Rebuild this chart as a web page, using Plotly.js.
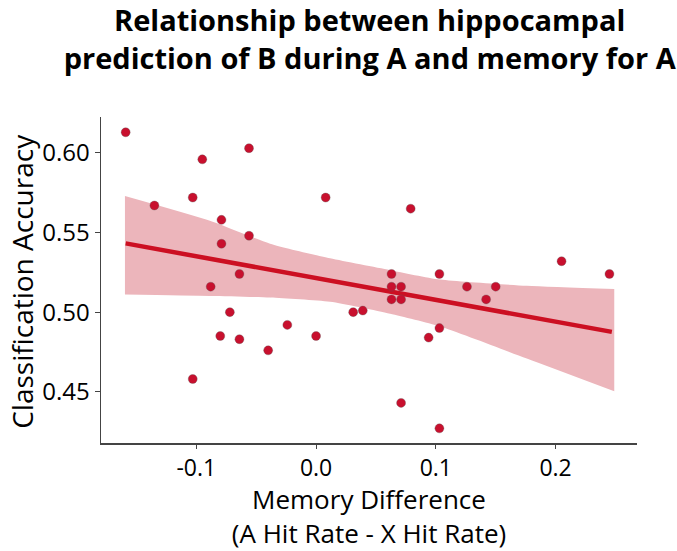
<!DOCTYPE html>
<html>
<head>
<meta charset="utf-8">
<script src="https://cdn.plot.ly/plotly-3.0.1.min.js"></script>
<style>
  html, body { margin: 0; padding: 0; background: #fff; }
  #chart { width: 677px; height: 551px; }
</style>
</head>
<body>
<div id="chart"></div>
<script>
// scatter points: memory difference vs classification accuracy
const memDiff = [
  -0.159, -0.056, -0.095, -0.103, 0.008, -0.135, -0.079, -0.056, -0.079, -0.064, -0.088,
  0.079, 0.063, 0.103, 0.063, 0.071, 0.126, 0.150, 0.063, 0.071, 0.142, 0.205, 0.245,
  -0.072, 0.031, 0.039, -0.080, -0.064, -0.024, 0.000, -0.040, -0.103,
  0.103, 0.094, 0.071, 0.103
];
const classAcc = [
  0.613, 0.603, 0.596, 0.572, 0.572, 0.567, 0.558, 0.548, 0.543, 0.524, 0.516,
  0.565, 0.524, 0.524, 0.516, 0.516, 0.516, 0.516, 0.508, 0.508, 0.508, 0.532, 0.524,
  0.500, 0.500, 0.501, 0.485, 0.483, 0.492, 0.485, 0.476, 0.458,
  0.490, 0.484, 0.443, 0.427
];

// regression line end points
const fitX = [-0.159, 0.247];
const fitY = [0.5432, 0.4876];

// confidence band
const bandX     = [-0.1596, -0.0886, -0.0384, 0.0117, 0.0618, 0.1036, 0.176, 0.249];
const bandUpper = [0.5730, 0.5574, 0.5430, 0.5338, 0.5264, 0.5205, 0.5166, 0.5145];
const bandLower = [0.5111, 0.5102, 0.5092, 0.5065, 0.4990, 0.4910, 0.4709, 0.4503];

const xTicks = [-0.1, 0.0, 0.1, 0.2];
const xTickText = ["-0.1", "0.0", "0.1", "0.2"];
const yTicks = [0.45, 0.50, 0.55, 0.60];
const yTickText = ["0.45", "0.50", "0.55", "0.60"];

const FONT = "Open Sans, Lato, sans-serif";

const traces = [
  // lower edge of band (invisible)
  {
    x: bandX,
    y: bandLower,
    mode: "lines",
    line: { width: 0, color: "rgba(0,0,0,0)", shape: "spline", smoothing: 0.6 },
    hoverinfo: "skip",
    showlegend: false
  },
  // upper edge, filled down to lower
  {
    x: bandX,
    y: bandUpper,
    mode: "lines",
    fill: "tonexty",
    fillcolor: "#ecb5bb",
    line: { width: 0, color: "rgba(0,0,0,0)", shape: "spline", smoothing: 0.6 },
    hoverinfo: "skip",
    showlegend: false
  },
  {
    x: fitX,
    y: fitY,
    mode: "lines",
    line: { color: "#cc0f22", width: 4.5 },
    showlegend: false
  },
  {
    x: memDiff,
    y: classAcc,
    mode: "markers",
    marker: {
      color: "#c8102e",
      size: 9,
      line: { color: "rgba(90,90,90,0.55)", width: 0.6 }
    },
    showlegend: false
  }
];

const layout = {
  width: 677,
  height: 551,
  paper_bgcolor: "#fff",
  plot_bgcolor: "#fff",
  margin: { l: 101, r: 40, t: 117, b: 108 },
  font: { family: FONT, color: "#000" },
  title: {
    text: "<b>Relationship between hippocampal<br>prediction of B during A and memory for A</b>",
    font: { family: FONT, size: 29, color: "#000" },
    x: 0.546,
    xanchor: "center",
    yref: "container",
    y: 0.944,
    yanchor: "top"
  },
  xaxis: {
    range: [-0.1796, 0.268],
    tickvals: xTicks,
    ticktext: xTickText,
    ticks: "outside",
    ticklen: 4,
    tickcolor: "#444",
    tickfont: { size: 23 },
    showline: true,
    linecolor: "#444",
    linewidth: 1.5,
    showgrid: false,
    zeroline: false,
    title: {
      text: "Memory Difference<br>(A Hit Rate - X Hit Rate)",
      font: { size: 26 },
      standoff: 9
    }
  },
  yaxis: {
    range: [0.4178, 0.6226],
    tickvals: yTicks,
    ticktext: yTickText,
    ticks: "outside",
    ticklen: 5,
    tickcolor: "#444",
    tickfont: { size: 24 },
    showline: true,
    linecolor: "#444",
    linewidth: 1.5,
    showgrid: false,
    zeroline: false
  },
  // y-axis title placed by hand so it sits as far left as in the reference
  annotations: [
    {
      text: "Classification Accuracy",
      textangle: -90,
      font: { family: FONT, size: 28, color: "#000" },
      xref: "paper",
      yref: "paper",
      x: -0.149,
      y: 0.495,
      xanchor: "center",
      yanchor: "middle",
      showarrow: false
    }
  ]
};

Plotly.newPlot("chart", traces, layout, { staticPlot: true, displayModeBar: false });
</script>
</body>
</html>
